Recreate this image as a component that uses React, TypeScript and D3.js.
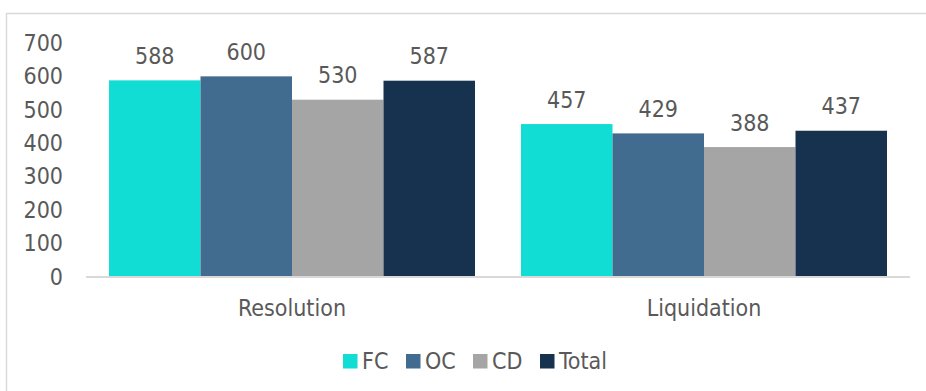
import React from "react";
import * as d3 from "d3";

const categories = ["Resolution", "Liquidation"];
const seriesNames = ["FC", "OC", "CD", "Total"];
const fcValues = [588, 457];
const ocValues = [600, 429];
const cdValues = [530, 388];
const totalValues = [587, 437];
const yTicks = [0, 100, 200, 300, 400, 500, 600, 700];
const colors = ["#12DDD4", "#416B8F", "#A5A5A5", "#17324F"];

const seriesValues = [fcValues, ocValues, cdValues, totalValues];

export default function App() {
  const W = 926;
  const H = 391;
  const font = "'DejaVu Sans Condensed', 'DejaVu Sans', sans-serif";
  const fontStretch = "condensed";
  const textColor = "#595959";
  const fs = 23;

  const x0 = d3.scaleBand<string>().domain(categories).range([86, 910]).padding(0);
  const groupPad = 23;
  const x1 = d3
    .scaleBand<string>()
    .domain(seriesNames)
    .range([groupPad, x0.bandwidth() - groupPad])
    .padding(0);
  const y = d3.scaleLinear().domain([0, 700]).range([276.5, 43]);

  const legendX = [343, 406, 473, 540];

  return (
    <svg
      width={W}
      height={H}
      style={{ position: "absolute", left: 0, top: 0, background: "#fff", fontStretch }}
      fontFamily={font}
    >
      <rect x={6.5} y={13.5} width={1000} height={1000} fill="#fff" stroke="#D9D9D9" strokeWidth={1.5} />
      {yTicks.map((t) => (
        <text
          key={t}
          x={63}
          y={y(t)}
          textAnchor="end"
          dominantBaseline="central"
          fontSize={fs}
          fill={textColor}
        >
          {t}
        </text>
      ))}
      {categories.map((c, ci) => (
        <g key={c} transform={`translate(${x0(c)},0)`}>
          {seriesNames.map((s, si) => {
            const v = seriesValues[si][ci];
            const bx = x1(s)!;
            return (
              <g key={s}>
                <rect
                  x={bx}
                  y={y(v)}
                  width={x1.bandwidth()}
                  height={y(0) - y(v)}
                  fill={colors[si]}
                />
                <text
                  x={bx + x1.bandwidth() / 2}
                  y={y(v) - 24.5}
                  textAnchor="middle"
                  dominantBaseline="central"
                  fontSize={fs}
                  fill={textColor}
                >
                  {v}
                </text>
              </g>
            );
          })}
          <text
            x={x0.bandwidth() / 2}
            y={307.5}
            textAnchor="middle"
            dominantBaseline="central"
            fontSize={fs}
            fill={textColor}
          >
            {c}
          </text>
        </g>
      ))}
      <line x1={86} x2={910} y1={y(0) + 0.5} y2={y(0) + 0.5} stroke="#D9D9D9" strokeWidth={2} />
      {seriesNames.map((s, i) => (
        <g key={s}>
          <rect x={legendX[i]} y={354} width={14.5} height={14.5} fill={colors[i]} />
          <text
            x={legendX[i] + 19}
            y={361}
            dominantBaseline="central"
            fontSize={fs}
            fill={textColor}
          >
            {s}
          </text>
        </g>
      ))}
    </svg>
  );
}
